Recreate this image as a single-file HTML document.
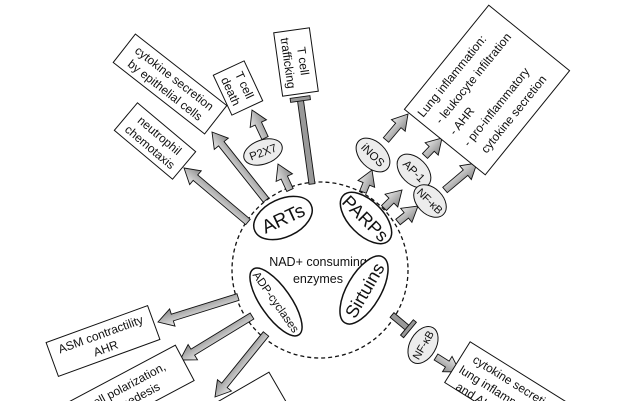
<!DOCTYPE html>
<html><head><meta charset="utf-8"><style>
html,body{margin:0;padding:0;background:#fff;width:640px;height:401px;overflow:hidden}
svg{display:block;overflow:hidden}
svg text{font-family:"Liberation Sans","DejaVu Sans",sans-serif;fill:#111}
</style></head><body>
<svg id="s" width="640" height="401" viewBox="0 0 640 401" xmlns="http://www.w3.org/2000/svg">
<defs><linearGradient id="g" x1="0" y1="0" x2="0" y2="1"><stop offset="0" stop-color="#e8e8e8"/><stop offset="1" stop-color="#8a8a8a"/></linearGradient>
<clipPath id="c"><rect width="640" height="401"/></clipPath></defs>
<g clip-path="url(#c)">
<circle cx="320" cy="270" r="88" fill="none" stroke="#111" stroke-width="1.3" stroke-dasharray="4,3"/>
<text x="318" y="266" font-size="12.5" text-anchor="middle">NAD+ consuming</text>
<text x="318" y="283" font-size="12.5" text-anchor="middle">enzymes</text>
<g id="arrows"></g>
<g transform="translate(283,218) rotate(-25)"><ellipse rx="31" ry="19" fill="#fff" stroke="#111" stroke-width="1.5"/><text y="7" font-size="19" text-anchor="middle">ARTs</text></g>
<g transform="translate(366,218) rotate(45)"><ellipse rx="32" ry="17" fill="#fff" stroke="#111" stroke-width="1.5"/><text y="7" font-size="18" text-anchor="middle">PARPs</text></g>
<g transform="translate(364,290) rotate(-60)"><ellipse rx="38" ry="17" fill="#fff" stroke="#111" stroke-width="1.5"/><text y="7" font-size="18" text-anchor="middle">Sirtuins</text></g>
<g transform="translate(276,302) rotate(55)"><ellipse rx="40" ry="15" fill="#fff" stroke="#111" stroke-width="1.5"/><text y="4" font-size="11.5" text-anchor="middle">ADP-cyclases</text></g>
<g transform="translate(263,152) rotate(-20)"><ellipse rx="20" ry="12" fill="#ececec" stroke="#111"/><text y="4" font-size="11.5" text-anchor="middle">P2X7</text></g>
<g transform="translate(373,155) rotate(45)"><ellipse rx="20" ry="13" fill="#ececec" stroke="#111"/><text y="4" font-size="11.5" text-anchor="middle">iNOS</text></g>
<g transform="translate(414,171) rotate(45)"><ellipse rx="20" ry="13" fill="#ececec" stroke="#111"/><text y="4" font-size="11.5" text-anchor="middle">AP-1</text></g>
<g transform="translate(430,201) rotate(45)"><ellipse rx="19" ry="13" fill="#ececec" stroke="#111"/><text y="4" font-size="11" text-anchor="middle">NF-κB</text></g>
<g transform="translate(423,345) rotate(-60)"><ellipse rx="20" ry="13" fill="#ececec" stroke="#111"/><text y="4" font-size="11" text-anchor="middle">NF-κB</text></g>
<g transform="translate(170,84) rotate(38)"><rect x="-58" y="-18" width="116" height="36" fill="#fff" stroke="#111"/><text y="-3" font-size="12" text-anchor="middle">cytokine secretion</text><text y="12" font-size="12" text-anchor="middle">by epithelial cells</text></g>
<g transform="translate(155,141) rotate(40)"><rect x="-38" y="-18" width="76" height="36" fill="#fff" stroke="#111"/><text y="-3" font-size="12" text-anchor="middle">neutrophil</text><text y="12" font-size="12" text-anchor="middle">chemotaxis</text></g>
<g transform="translate(238,88) rotate(65)"><rect x="-22" y="-17" width="44" height="34" fill="#fff" stroke="#111"/><text y="-3" font-size="12" text-anchor="middle">T cell</text><text y="12" font-size="12" text-anchor="middle">death</text></g>
<g transform="translate(296,62) rotate(82)"><rect x="-32" y="-18" width="64" height="36" fill="#fff" stroke="#111"/><text y="-3" font-size="12" text-anchor="middle">T cell</text><text y="12" font-size="12" text-anchor="middle">trafficking</text></g>
<g transform="translate(487,90) rotate(-51)"><rect x="-67" y="-52" width="134" height="104" fill="#fff" stroke="#111"/>
<text x="-62" y="-32" font-size="12">Lung inflammation:</text><text x="-56" y="-14" font-size="12">- leukocyte infiltration</text><text x="-56" y="4" font-size="12">- AHR</text><text x="-56" y="22" font-size="12">- pro-inflammatory</text><text x="-50" y="40" font-size="12">cytokine secretion</text></g>
<g transform="translate(103,341) rotate(-20)"><rect x="-54" y="-18" width="108" height="36" fill="#fff" stroke="#111"/><text y="-3" font-size="12" text-anchor="middle">ASM contractility</text><text y="12" font-size="12" text-anchor="middle">AHR</text></g>
<g transform="translate(130,392) rotate(-28)"><rect x="-62" y="-20" width="124" height="40" fill="#fff" stroke="#111"/><text y="-3" font-size="12" text-anchor="middle">cell polarization,</text><text y="12" font-size="12" text-anchor="middle">diapedesis</text></g>
<g transform="translate(240,412) rotate(-30)"><rect x="-45" y="-20" width="90" height="40" fill="#fff" stroke="#111"/></g>
<g transform="translate(510,395) rotate(32)"><rect x="-62" y="-24" width="124" height="48" fill="#fff" stroke="#111"/><text x="-50" y="-8" font-size="12">cytokine secretion</text><text x="-56" y="8" font-size="12">lung inflammation</text><text x="-50" y="24" font-size="12">and AHR</text></g>
</g>
</svg>
<script>
var NS="http://www.w3.org/2000/svg",G=document.getElementById("arrows");
function arrow(x1,y1,x2,y2){var dx=x2-x1,dy=y2-y1,L=Math.hypot(dx,dy),a=Math.atan2(dy,dx)*180/Math.PI,h=15,w=3.5,hw=9;
var p=document.createElementNS(NS,"polygon");p.setAttribute("points",[0,-w,L-h,-w,L-h,-hw,L,0,L-h,hw,L-h,w,0,w].reduce(function(s,v,i){return s+(i%2?","+v+" ":v)},""));
p.setAttribute("transform","translate("+x1+","+y1+") rotate("+a+")");p.setAttribute("fill","url(#g)");p.setAttribute("stroke","#111");p.setAttribute("stroke-width","0.9");G.appendChild(p);}
function tbar(x1,y1,x2,y2){var dx=x2-x1,dy=y2-y1,L=Math.hypot(dx,dy),a=Math.atan2(dy,dx)*180/Math.PI;
var g=document.createElementNS(NS,"g");g.setAttribute("transform","translate("+x1+","+y1+") rotate("+a+")");
g.innerHTML='<rect x="0" y="-3" width="'+(L-3)+'" height="6" fill="#999" stroke="#111" stroke-width="0.9"/><rect x="'+(L-4)+'" y="-10" width="4" height="20" fill="#999" stroke="#111" stroke-width="0.9"/>';G.appendChild(g);}
arrow(248,222,184,168);arrow(266,200,212,132);arrow(290,190,278,164);arrow(265,138,252,110);tbar(312,184,300,97);
arrow(363,192,372,170);arrow(386,140,408,114);arrow(384,208,402,190);arrow(425,156,442,138);arrow(398,222,418,206);arrow(445,190,477,163);
arrow(238,297,158,322);arrow(252,316,180,360);arrow(266,334,215,397);
tbar(392,315,410,330);arrow(436,357,460,372);
</script>
</body></html>
